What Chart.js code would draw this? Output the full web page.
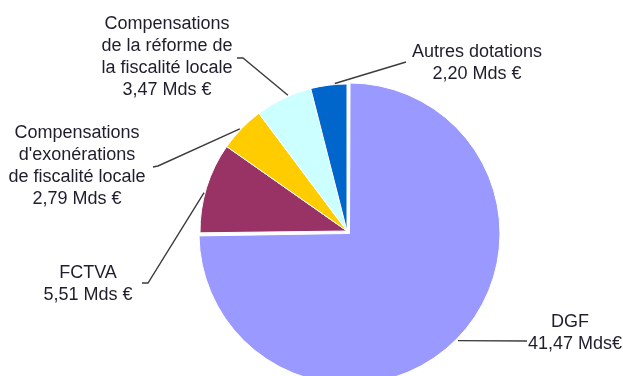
<!DOCTYPE html>
<html>
<head>
<meta charset="utf-8">
<script src="https://cdn.jsdelivr.net/npm/chart.js@4/dist/chart.umd.min.js"></script>
<style>
  html, body { margin: 0; padding: 0; background: #fff; overflow: hidden; }
  #wrap { width: 623px; height: 376px; position: relative; }
</style>
</head>
<body>
<div id="wrap"><canvas id="myChart"></canvas></div>
<script>
/* Dotations de l'Etat aux collectivites */
var categories = ['DGF', 'FCTVA', "Compensations d'exonérations de fiscalité locale",
                  'Compensations de la réforme de la fiscalité locale', 'Autres dotations'];
var values = [41.47, 5.51, 2.79, 3.47, 2.20];
var valueLabels = ['41,47 Mds€', '5,51 Mds €', '2,79 Mds €', '3,47 Mds €', '2,20 Mds €'];
var nameLines = [
  ['DGF'],
  ['FCTVA'],
  ['Compensations', "d'exonérations", 'de fiscalité locale'],
  ['Compensations', 'de la réforme de', 'la fiscalité locale'],
  ['Autres dotations']
];
var colors = ['#9999FF', '#993366', '#FFCC00', '#CCFFFF', '#0066CC'];

// label placement + leader lines (at = where on the arc the line ends, 0..1)
var callouts = [
  { x: [570, 528], align: ['center', 'left'], y: 322, line: [[527, 341]], at: 0.5, gap: 2 },
  { x: 88, align: 'center', y: 273, line: [[142, 283], [148, 283]], at: 0.44, gap: 1 },
  { x: 77, align: 'center', y: 133, line: [[153, 167], [158, 166]], at: 0.47, gap: 1 },
  { x: 167, align: 'center', y: 24, line: [[237, 58], [243, 58]], at: 0.59, gap: 1 },
  { x: 477, align: 'center', y: 52, line: [[406, 62]], at: 0.67, gap: 1 }
];

var calloutPlugin = {
  id: 'callouts',
  afterDatasetsDraw: function(chart) {
    var ctx = chart.ctx;
    var meta = chart.getDatasetMeta(0);
    var offsets = chart.data.datasets[0].offset;
    ctx.save();
    ctx.font = '18px "Liberation Sans", Arial, sans-serif';
    ctx.textBaseline = 'middle';
    callouts.forEach(function(c, i) {
      var p = meta.data[i].getProps(['x', 'y', 'startAngle', 'endAngle', 'outerRadius', 'circumference']);
      var off = offsets[i] || 0;
      var mid = (p.startAngle + p.endAngle) / 2;
      var shift = off / 4 * (2 - Math.sin(Math.min(Math.PI, p.circumference)));
      var a = p.startAngle + (p.endAngle - p.startAngle) * c.at;
      var r = p.outerRadius + c.gap;
      var ex = p.x + Math.cos(mid) * shift + Math.cos(a) * r;
      var ey = p.y + Math.sin(mid) * shift + Math.sin(a) * r;

      ctx.strokeStyle = '#3c3c3c';
      ctx.lineWidth = 1.4;
      ctx.beginPath();
      ctx.moveTo(c.line[0][0], c.line[0][1]);
      for (var k = 1; k < c.line.length; k++) ctx.lineTo(c.line[k][0], c.line[k][1]);
      ctx.lineTo(ex, ey);
      ctx.stroke();

      ctx.fillStyle = '#1e1e2c';
      var lines = nameLines[i].concat([valueLabels[i]]);
      lines.forEach(function(t, j) {
        ctx.textAlign = Array.isArray(c.align) ? c.align[j] : c.align;
        var tx = Array.isArray(c.x) ? c.x[j] : c.x;
        ctx.fillText(t, tx, c.y + j * 22);
      });
    });
    ctx.restore();
  }
};

var ctx1 = document.getElementById('myChart').getContext('2d');
window.myPie = new Chart(ctx1, {
  type: 'pie',
  data: {
    labels: categories,
    datasets: [{
      data: values,
      backgroundColor: colors,
      borderColor: '#fff',
      borderWidth: 1,
      offset: [14, 0, 0, 0, 0],
      radius: 147,
      clip: false
    }]
  },
  options: {
    animation: false,
    responsive: true,
    maintainAspectRatio: false,
    rotation: 0,
    layout: {
      padding: { left: 71, top: 86, right: 0, bottom: 0 }
    },
    plugins: {
      legend: { display: false },
      tooltip: { enabled: false }
    }
  },
  plugins: [calloutPlugin]
});
</script>
</body>
</html>
